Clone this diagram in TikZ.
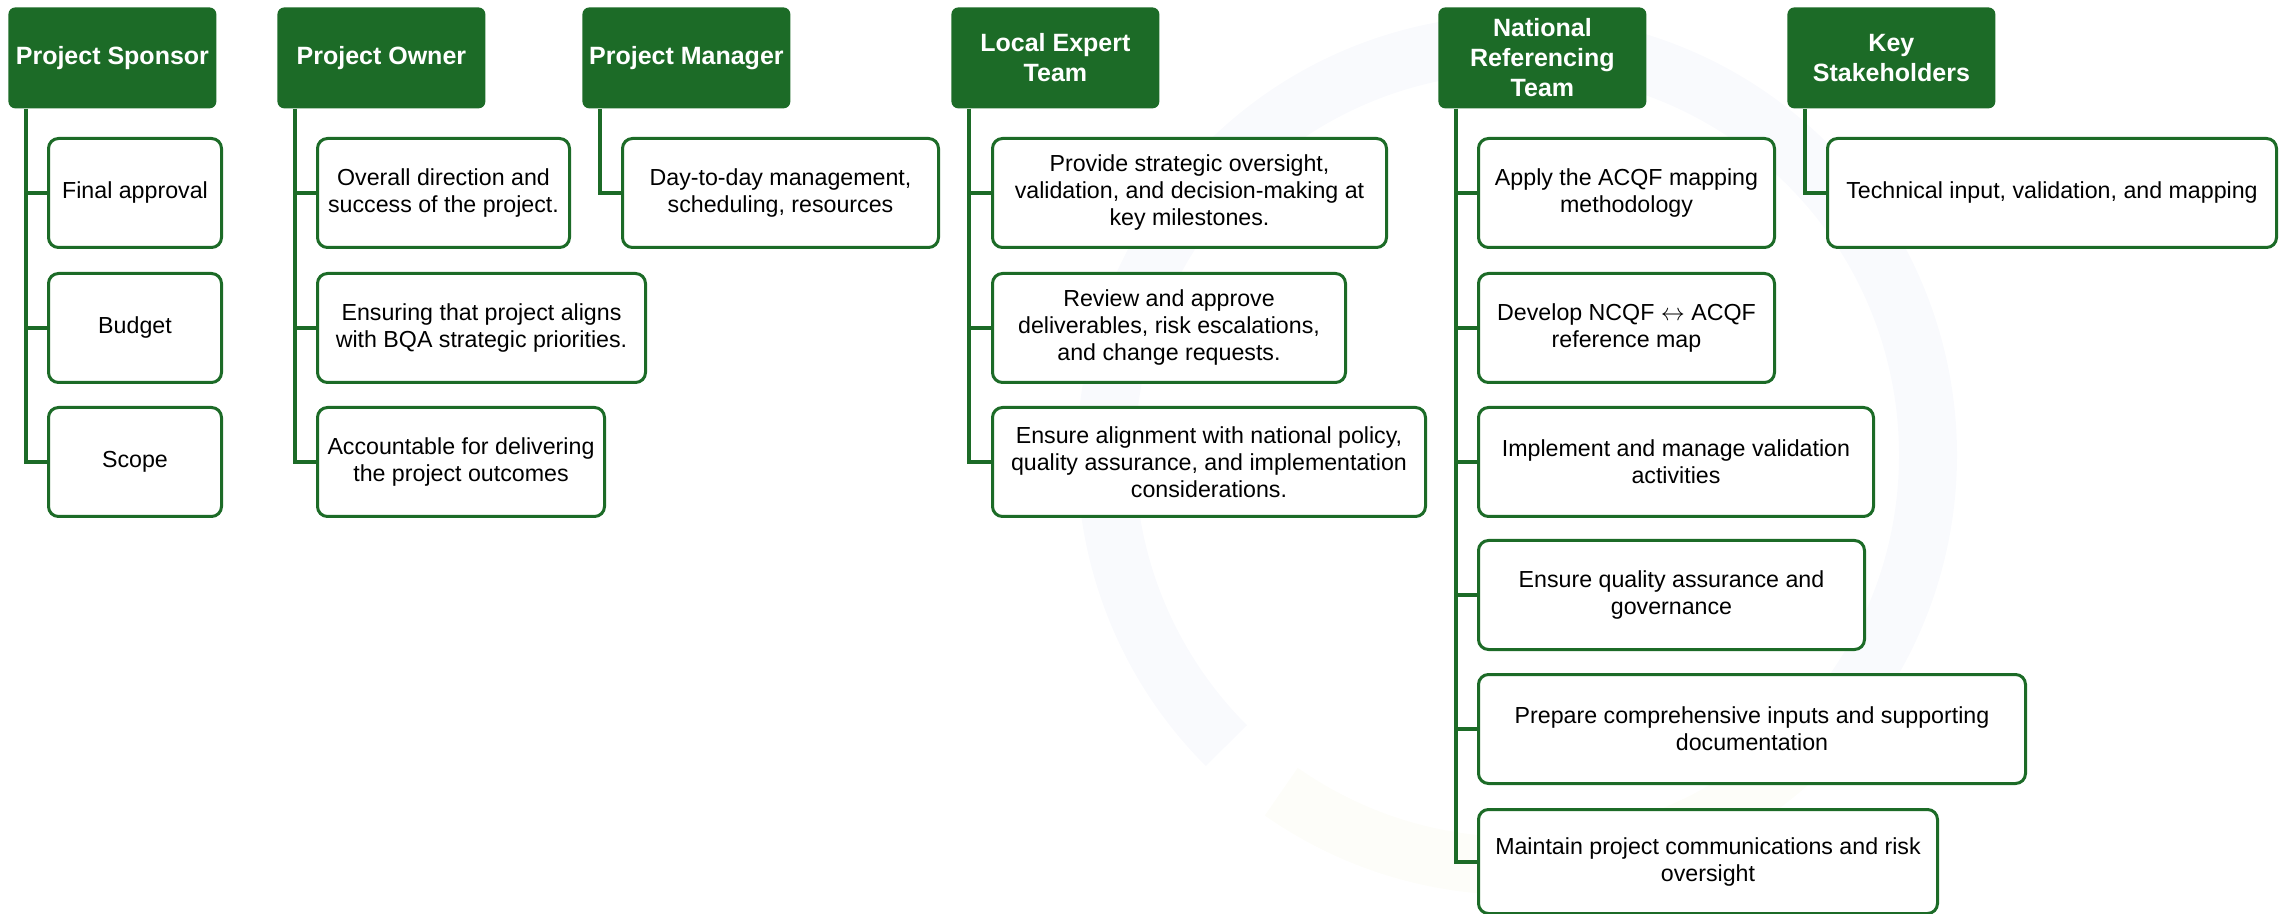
\documentclass[tikz,border=0pt]{standalone}
\usepackage{fontspec}
\setmainfont{Liberation Sans}
\usepackage{tikz}

\definecolor{leaf}{HTML}{1C6B27}
\definecolor{ringblue}{HTML}{F9FAFD}
\definecolor{ringcream}{HTML}{FDFDF9}

\begin{document}
\begin{tikzpicture}[x=0.5pt,y=-0.5pt,
    head/.style={anchor=north west, fill=leaf, text=white, rounded corners=3.5pt,
      minimum width=104pt, minimum height=50.5pt, align=center, inner sep=1pt,
      font=\bfseries\fontsize{12.5}{15}\selectfont},
    duty/.style={anchor=north west, draw=leaf, line width=1.5pt, fill=white,
      rounded corners=5pt, minimum height=54.5pt, align=center, inner sep=2pt,
      font=\fontsize{11.6}{13.5}\selectfont},
    link/.style={draw=leaf, line width=2pt}]
    \useasboundingbox (0,0) rectangle (2282,914);

    % faint ring in the background
    \draw[ringblue, line width=29pt] (1517,455) ++(40:411) arc[start angle=40, end angle=-225, radius=411];
    \draw[ringcream, line width=29pt] (1517,455) ++(-235:411) arc[start angle=-235, end angle=-320, radius=411];

    % headers
    \node[head] (ps) at (8,7) {Project Sponsor};
    \node[head] (po) at (277,7) {Project Owner};
    \node[head] (pm) at (582,7) {Project Manager};
    \node[head] (le) at (951,7) {Local Expert\\Team};
    \node[head] (nr) at (1438,7) {National\\Referencing\\Team};
    \node[head] (ks) at (1787,7) {Key\\Stakeholders};

    % sponsor
    \node[duty, minimum width=86.5pt] (ps1) at (47,137) {Final approval};
    \node[duty, minimum width=86.5pt] (ps2) at (47,272) {Budget};
    \node[duty, minimum width=86.5pt] (ps3) at (47,406) {Scope};

    % owner
    \node[duty, minimum width=126pt] (po1) at (316,137) {Overall direction and\\success of the project.};
    \node[duty, minimum width=164pt] (po2) at (316,272) {Ensuring that project aligns\\with BQA strategic priorities.};
    \node[duty, minimum width=143.5pt] (po3) at (316,406) {Accountable for delivering\\the project outcomes};

    % manager
    \node[duty, minimum width=158pt] (pm1) at (621,137) {Day-to-day management,\\scheduling, resources};

    % local experts
    \node[duty, minimum width=197pt] (le1) at (991,137) {Provide strategic oversight,\\validation, and decision-making at\\key milestones.};
    \node[duty, minimum width=176.5pt] (le2) at (991,272) {Review and approve\\deliverables, risk escalations,\\and change requests.};
    \node[duty, minimum width=216.5pt] (le3) at (991,406) {Ensure alignment with national policy,\\quality assurance, and implementation\\considerations.};

    % national team
    \node[duty, minimum width=148pt] (nr1) at (1477,137) {Apply the ACQF mapping\\methodology};
    \node[duty, minimum width=148pt] (nr2) at (1477,272) {Develop NCQF $\leftrightarrow$ ACQF\\reference map};
    \node[duty, minimum width=197.5pt] (nr3) at (1477,406) {Implement and manage validation\\activities};
    \node[duty, minimum width=193pt] (nr4) at (1477,539) {Ensure quality assurance and\\governance};
    \node[duty, minimum width=273.5pt] (nr5) at (1477,673) {Prepare comprehensive inputs and supporting\\documentation};
    \node[duty, minimum width=229.5pt, minimum height=52pt] (nr6) at (1477,808) {Maintain project communications and risk\\oversight};

    % stakeholders
    \node[duty, minimum width=224.5pt] (ks1) at (1826,137) {Technical input, validation, and mapping};

    % connectors
    \draw[link] ([xshift=9pt]ps.south west) |- (ps1.west);
    \draw[link] ([xshift=9pt]ps.south west) |- (ps2.west);
    \draw[link] ([xshift=9pt]ps.south west) |- (ps3.west);
    \draw[link] ([xshift=9pt]po.south west) |- (po1.west);
    \draw[link] ([xshift=9pt]po.south west) |- (po2.west);
    \draw[link] ([xshift=9pt]po.south west) |- (po3.west);
    \draw[link] ([xshift=9pt]pm.south west) |- (pm1.west);
    \draw[link] ([xshift=9pt]le.south west) |- (le1.west);
    \draw[link] ([xshift=9pt]le.south west) |- (le2.west);
    \draw[link] ([xshift=9pt]le.south west) |- (le3.west);
    \draw[link] ([xshift=9pt]nr.south west) |- (nr1.west);
    \draw[link] ([xshift=9pt]nr.south west) |- (nr2.west);
    \draw[link] ([xshift=9pt]nr.south west) |- (nr3.west);
    \draw[link] ([xshift=9pt]nr.south west) |- (nr4.west);
    \draw[link] ([xshift=9pt]nr.south west) |- (nr5.west);
    \draw[link] ([xshift=9pt]nr.south west) |- (nr6.west);
    \draw[link] ([xshift=9pt]ks.south west) |- (ks1.west);
  \end{tikzpicture}
\end{document}
